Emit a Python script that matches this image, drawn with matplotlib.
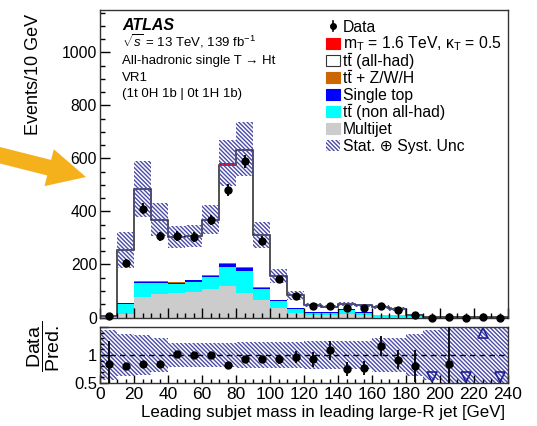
import numpy as np
import matplotlib
matplotlib.use("Agg")
import matplotlib.pyplot as plt
from matplotlib.patches import Rectangle, FancyArrow
from matplotlib.lines import Line2D
from matplotlib.transforms import IdentityTransform
from matplotlib.ticker import MultipleLocator, FixedLocator, FixedFormatter

plt.rcParams["font.family"] = ["Liberation Sans", "DejaVu Sans"]
plt.rcParams["mathtext.fontset"] = "custom"
plt.rcParams["mathtext.rm"] = "Liberation Sans"
plt.rcParams["mathtext.it"] = "Liberation Sans:italic"
plt.rcParams["mathtext.bf"] = "Liberation Sans:bold"
plt.rcParams["hatch.linewidth"] = 1.0

# ---- binning: leading subjet mass [GeV], 10 GeV bins ----
bin_edges = np.arange(0, 250, 10)

# ---- background components (events / bin) ----
multijet = [1, 15, 78, 88, 94, 98, 107, 117, 91, 65, 35, 16, 9, 9, 15, 8, 3, 3, 1, 0.3, 0.2, 0.1, 0.1, 0.05]
tt_nonallhad = [1, 35, 52, 42, 34, 37, 44, 75, 85, 43, 26, 17, 9, 9, 14, 10, 6, 6, 3, 0.7, 0.4, 0.2, 0.1, 0.1]
single_top = [0.3, 4, 5, 5, 4, 5, 6, 9, 11, 5, 4, 3, 1, 1, 2, 1, 0.5, 0.5, 0.3, 0.1, 0, 0, 0, 0]
ttbar_x = [0.1, 1, 2, 2, 2, 2, 2, 5, 5, 2, 1, 1, 0.5, 0.5, 0.5, 0.3, 0.3, 0.2, 0.1, 0, 0, 0, 0, 0]
tt_allhad = [2.4, 200, 348, 231, 170, 164, 209, 370, 438, 196, 90, 47, 27, 21, 18, 26, 28, 23, 5.6, 1.4, 0.6, 0.3, 0.2, 0.15]
signal = [0, 0.2, 0.3, 0.3, 0.3, 0.4, 0.6, 6, 6, 1, 0.5, 0.3, 0.2, 0.2, 0.2, 0.1, 0.1, 0.1, 0, 0, 0, 0, 0, 0]

# ---- observed data ----
data = [4, 206, 410, 306, 308, 304, 367, 482, 590, 290, 144, 82, 43, 44, 37, 35, 44, 30, 8, 0, 1, 0, 1, 0]

# ---- relative total uncertainty on the prediction ----
unc_main = [0.5, 0.27, 0.22, 0.17, 0.135, 0.135, 0.15, 0.15, 0.16, 0.16, 0.17, 0.2,
            0.15, 0.15, 0.15, 0.15, 0.2, 0.2, 0.3, 0.5, 1, 1, 1, 1]
unc_ratio = [0.45, 0.37, 0.35, 0.30, 0.22, 0.22, 0.22, 0.22, 0.24, 0.24, 0.24, 0.24,
             0.25, 0.25, 0.25, 0.25, 0.30, 0.30, 0.37, 0.45, 1, 1, 1, 1]

# legend entries; a leading "tt" gets an anti-quark bar drawn over its second t
legend_labels = [
    "Data",
    r"m$_\mathrm{T}$ = 1.6 TeV, κ$_\mathrm{T}$ = 0.5",
    "tt (all-had)",
    "tt + Z/W/H",
    "Single top",
    "tt (non all-had)",
    "Multijet",
    "Stat. ⊕ Syst. Unc",
]
ttbar_rows = [2, 3, 5]

C_MJ, C_TTN, C_ST, C_TTX, C_TTA, C_SIG = "#cccccc", "#00ffff", "#0000ff", "#cc6600", "white", "#ff0000"
HATCH_C = "#4b4ba8"
HATCH = "\\" * 8

W, H = 537, 426
fig = plt.figure(figsize=(W / 100, H / 100), dpi=100)


def fx(px):
    return px / W


def fy(py):
    return 1 - py / H


ax = fig.add_axes([fx(100), fy(317.5), fx(508) - fx(100), fy(10) - fy(317.5)])
rax = fig.add_axes([fx(100), fy(383), fx(508) - fx(100), fy(327) - fy(383)])

centers = 0.5 * (bin_edges[:-1] + bin_edges[1:])
data_a = np.asarray(data, dtype=float)

# ---- stacked prediction ----
layers = [(multijet, C_MJ), (tt_nonallhad, C_TTN), (single_top, C_ST),
          (ttbar_x, C_TTX), (tt_allhad, C_TTA)]
base = np.zeros(len(centers))
for vals, col in layers:
    top = base + np.asarray(vals, dtype=float)
    ax.stairs(top, bin_edges, baseline=base, fill=True, facecolor=col, edgecolor="none", lw=0)
    base = top
bkg_total = base.copy()
ax.stairs(bkg_total, bin_edges, baseline=0, color="#222222", lw=1.1)
total = bkg_total + np.asarray(signal, dtype=float)
ax.stairs(total, bin_edges, baseline=bkg_total, fill=True, facecolor=C_SIG, edgecolor="none", lw=0)

# uncertainty band
um = np.asarray(unc_main)
ax.stairs(total * (1 + um), bin_edges, baseline=total * (1 - um), fill=True,
          facecolor="none", edgecolor=HATCH_C, hatch=HATCH, lw=0)

# data points
ax.errorbar(centers, data_a, yerr=np.sqrt(data_a), fmt="o", color="black", ms=5,
            elinewidth=1.3, capsize=0, clip_on=False, zorder=5)

ax.set_xlim(0, 240)
ax.set_ylim(0, 1160)
ax.xaxis.set_major_locator(MultipleLocator(20))
ax.xaxis.set_minor_locator(MultipleLocator(5))
ax.yaxis.set_major_locator(MultipleLocator(200))
ax.yaxis.set_minor_locator(MultipleLocator(50))
ax.tick_params(axis="both", which="both", direction="in", top=False, right=False)
ax.tick_params(axis="both", which="major", length=7.5, width=1)
ax.tick_params(axis="both", which="minor", length=3.8, width=1)
ax.tick_params(axis="x", labelbottom=False)
ax.tick_params(axis="y", labelsize=11.3, pad=2)

# ---- ratio panel ----
ur = np.asarray(unc_ratio)
rax.stairs(1 + ur, bin_edges, baseline=1 - ur, fill=True, facecolor="none",
           edgecolor=HATCH_C, hatch=HATCH, lw=0)
rax.axhline(1, color="black", ls=(0, (4, 3)), lw=1)
ratio = data_a / total
ratio_err = np.sqrt(data_a) / total
inside = (ratio >= 0.5) & (ratio <= 1.5)
rax.errorbar(centers[inside], ratio[inside], yerr=ratio_err[inside], fmt="o", color="black",
             ms=5, elinewidth=1.3, capsize=0, zorder=5)
below = ratio < 0.5
above = ratio > 1.5
rax.plot(centers[below], np.full(below.sum(), 0.6), ls="none", marker="v", ms=7,
         mfc="none", mec="#1f1f99", mew=1.2)
rax.plot(centers[above], np.full(above.sum(), 1.4), ls="none", marker="^", ms=7,
         mfc="none", mec="#1f1f99", mew=1.2)

rax.set_xlim(0, 240)
rax.set_ylim(0.5, 1.5)
rax.xaxis.set_major_locator(MultipleLocator(20))
rax.xaxis.set_minor_locator(MultipleLocator(5))
rax.yaxis.set_major_locator(FixedLocator([0.5, 1.0, 1.5]))
rax.yaxis.set_major_formatter(FixedFormatter(["0.5", "1", ""]))
rax.yaxis.set_minor_locator(MultipleLocator(0.1))
rax.tick_params(axis="both", which="both", direction="in", top=False, right=False)
rax.tick_params(axis="both", which="major", length=5.5, width=1)
rax.tick_params(axis="both", which="minor", length=3, width=1)
rax.tick_params(axis="x", labelsize=12.5, pad=3)
rax.tick_params(axis="y", labelsize=12, pad=2)

for a in (ax, rax):
    for s in a.spines.values():
        s.set_linewidth(1)
        s.set_color("#333333")

# ---- axis titles ----
fig.text(fx(33), fy(14), "Events/10 GeV", rotation=90, ha="center", va="top", fontsize=13)
fig.text(fx(44), fy(346), r"$\dfrac{\mathrm{Data}}{\mathrm{Pred.}}$", rotation=90,
         ha="center", va="center", fontsize=14)
fig.text(fx(505), fy(413), "Leading subjet mass in leading large-R jet [GeV]",
         ha="right", va="center", fontsize=12.2)

# ---- labels inside the main panel ----
fig.text(fx(122), fy(30), "ATLAS", weight="bold", style="italic", fontsize=11.5, va="baseline")
info = [r"$\sqrt{s}$ = 13 TeV, 139 fb$^{-1}$", "All-hadronic single T → Ht", "VR1",
        "(1t 0H 1b | 0t 1H 1b)"]
for i, line in enumerate(info):
    fig.text(fx(122), fy(47 + 16.8 * i), line, fontsize=9.5, va="baseline")

# ---- legend ----
LEG_FS = 11.3
leg_styles = [
    ("data", None),
    ("box", C_SIG),
    ("box", C_TTA),
    ("box", C_TTX),
    ("box", C_ST),
    ("box", C_TTN),
    ("box", C_MJ),
    ("hatch", None),
]
renderer = fig.canvas.get_renderer()
probe = fig.text(0, 0, "t", fontsize=LEG_FS)
t_width = probe.get_window_extent(renderer).width
probe.remove()

for i, ((kind, col), lab) in enumerate(zip(leg_styles, legend_labels)):
    yc = 26 + 17.1 * i
    if kind == "data":
        fig.add_artist(Line2D([fx(333), fx(333)], [fy(yc - 5), fy(yc + 5)], color="black",
                              lw=1.2, transform=fig.transFigure))
        fig.add_artist(Line2D([fx(333)], [fy(yc)], marker="o", ms=4, color="black",
                              transform=fig.transFigure))
    elif kind == "box":
        ec = "#333333" if col == "white" else col
        fig.add_artist(Rectangle((fx(326), fy(yc + 5.5)), fx(14), 11 / H, facecolor=col,
                                 edgecolor=ec, lw=0.8, transform=fig.transFigure))
    else:
        fig.add_artist(Rectangle((fx(326), fy(yc + 5.5)), fx(14), 11 / H, facecolor="none",
                                 edgecolor=HATCH_C, hatch=HATCH, lw=0, transform=fig.transFigure))
    fig.text(fx(343), fy(yc + 5.5), lab, fontsize=LEG_FS, va="baseline")
    if i in ttbar_rows:
        x0 = 343 + t_width + 0.6
        fig.add_artist(Line2D([fx(x0), fx(x0 + t_width - 1.0)], [fy(yc - 7.2)] * 2,
                              color="black", lw=0.9, transform=fig.transFigure))

# ---- highlight arrow ----
fig.add_artist(FancyArrow(-5, H - 154, 91, -23, width=16, head_width=38, head_length=38,
                          length_includes_head=True, color="#f4b11c", lw=0,
                          transform=IdentityTransform()))

fig.savefig("out.png", dpi=100)
